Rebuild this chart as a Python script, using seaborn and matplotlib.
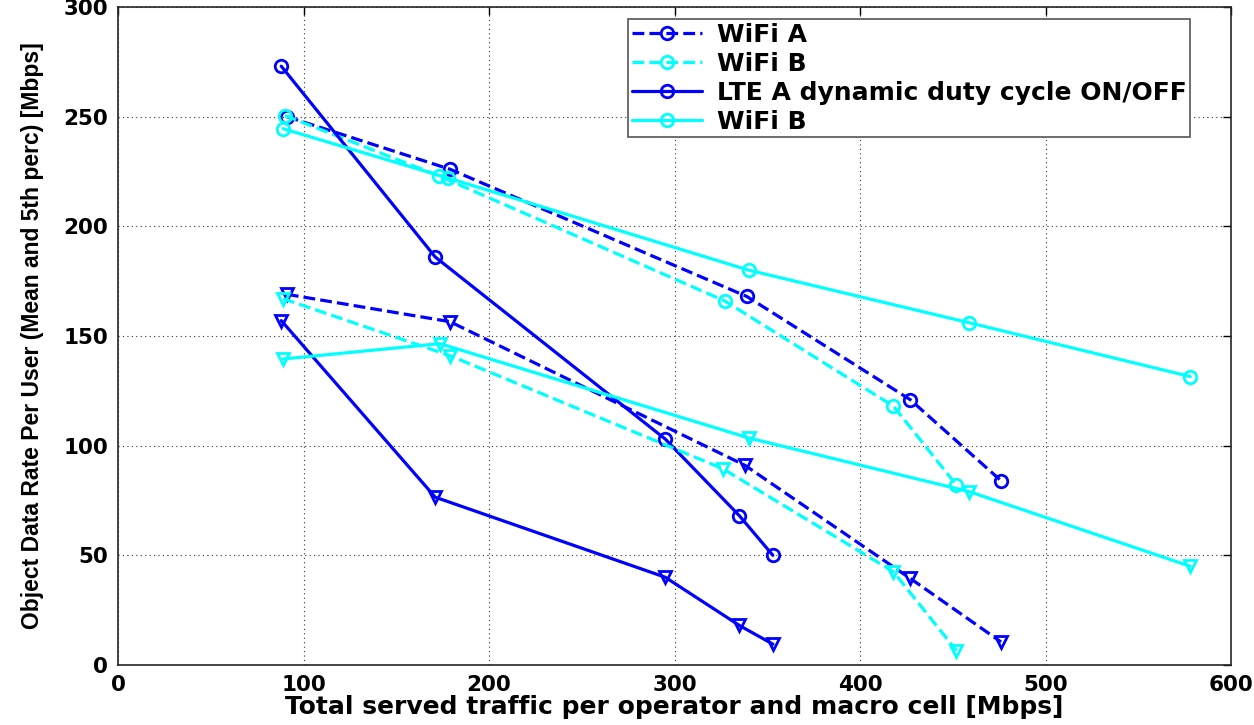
import matplotlib
matplotlib.use("Agg")
import matplotlib.pyplot as plt
import seaborn as sns
import pandas as pd

sns.set_style("white")
plt.rcParams["font.family"] = ["DejaVu Sans"]
plt.rcParams["text.color"] = "black"
plt.rcParams["axes.labelcolor"] = "black"
plt.rcParams["xtick.color"] = "black"
plt.rcParams["ytick.color"] = "black"

# mean curves (circles)
wifi_a_x = [91, 179, 339, 427, 476]
wifi_a_mean = [250, 226, 168, 121, 84]
wifi_b_dash_x = [90, 173, 327, 418, 452]
wifi_b_dash_mean = [250.5, 223, 166, 118, 82]
lte_x = [88, 171, 295, 335, 353]
lte_mean = [273, 186, 103, 68, 50]
wifi_b_x = [89, 178, 340, 459, 578]
wifi_b_mean = [244.5, 222, 180, 156, 131.5]

# 5th percentile curves (triangles)
wifi_a_p5_x = [91, 179, 338, 427, 476]
wifi_a_p5 = [169, 156.5, 91, 39.5, 10.5]
wifi_b_dash_p5_x = [89, 179, 326, 418, 452]
wifi_b_dash_p5 = [167, 141, 89.5, 42.5, 6.5]
lte_p5_x = [88, 171, 295, 335, 353]
lte_p5 = [157, 76.5, 40, 18, 9.5]
wifi_b_p5_x = [89, 173.5, 340, 459, 578]
wifi_b_p5 = [139.5, 146.5, 103.5, 79, 45]

legend_labels = ["WiFi A", "WiFi B", "LTE A dynamic duty cycle ON/OFF", "WiFi B"]

series = [
    (wifi_a_x, wifi_a_mean, "blue", "--", "o", legend_labels[0]),
    (wifi_b_dash_x, wifi_b_dash_mean, "cyan", "--", "o", legend_labels[1]),
    (lte_x, lte_mean, "blue", "-", "o", legend_labels[2]),
    (wifi_b_x, wifi_b_mean, "cyan", "-", "o", legend_labels[3]),
    (wifi_a_p5_x, wifi_a_p5, "blue", "--", "v", None),
    (wifi_b_dash_p5_x, wifi_b_dash_p5, "cyan", "--", "v", None),
    (lte_p5_x, lte_p5, "blue", "-", "v", None),
    (wifi_b_p5_x, wifi_b_p5, "cyan", "-", "v", None),
]

fig = plt.figure(figsize=(12.54, 7.25), dpi=100)
ax = fig.add_axes([0.0941, 0.0828, 0.8876, 0.9076])

for xs, ys, col, ls, mk, lab in series:
    df = pd.DataFrame({"x": xs, "y": ys})
    sns.lineplot(
        data=df, x="x", y="y", ax=ax, sort=False,
        color=col, linestyle=ls, linewidth=2.3,
        marker=mk, markersize=9, markerfacecolor="none",
        markeredgecolor=col, markeredgewidth=2.0,
        label=lab if lab else "_nolegend_",
        legend=bool(lab),
    )

ax.set_xlim(0, 600)
ax.set_ylim(0, 300)
ax.set_xticks(range(0, 601, 100))
ax.set_yticks(range(0, 301, 50))
ax.grid(True, linestyle=(0, (1, 3)), color="#333333", linewidth=0.8)
ax.tick_params(direction="in", top=True, right=True, length=6, width=1, pad=7)
for s in ax.spines.values():
    s.set_color("#262626")
    s.set_linewidth(1.2)

for lbl in ax.get_xticklabels() + ax.get_yticklabels():
    lbl.set_fontsize(15.5)
    lbl.set_fontweight("bold")

ax.set_xlabel("Total served traffic per operator and macro cell [Mbps]",
              fontsize=18, fontweight="bold", labelpad=0)
ax.set_ylabel("Object Data Rate Per User (Mean and 5th perc) [Mbps]",
              family=["Liberation Sans", "DejaVu Sans"], fontsize=16.5,
              fontweight="bold", labelpad=14)

leg = ax.legend(loc="upper left", bbox_to_anchor=(0.458, 0.982),
                borderaxespad=0,
                prop={"size": 18, "weight": "bold"}, fancybox=False,
                edgecolor="#555555", framealpha=1, handlelength=2.8,
                borderpad=0.15, labelspacing=0.2, handletextpad=0.6)
leg.get_frame().set_linewidth(1.2)

fig.savefig("out.png", dpi=100)
